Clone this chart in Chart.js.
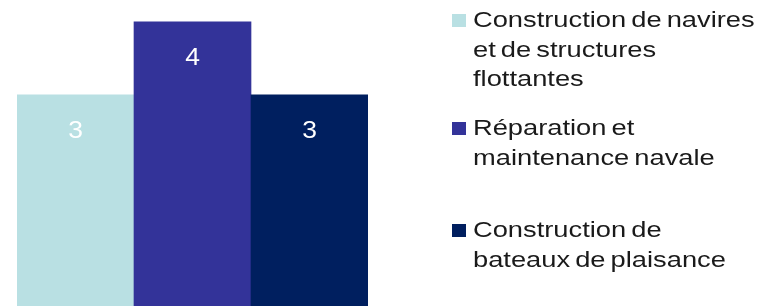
<!DOCTYPE html>
<html>
<head>
<meta charset="utf-8">
<script src="https://cdn.jsdelivr.net/npm/chart.js@4"></script>
<style>
  html, body { margin: 0; padding: 0; background: #fff; overflow: hidden; }
  body { width: 758px; height: 306px; position: relative; }
  #wrap { position: absolute; left: 0; top: 0; width: 758px; height: 314px; }
  #legend { position: absolute; left: 0; top: 0; }
  .item { position: absolute; left: 452px; }
  .box { position: absolute; left: 0; width: 14px; height: 13px; }
  .txt {
    position: absolute; left: 21px; top: 0;
    font-family: "Liberation Sans", Arial, sans-serif; font-size: 22px;
    line-height: 29.5px; color: #1a1a1a; white-space: nowrap;
    word-spacing: -2px;
    transform: scaleX(1.24); transform-origin: left top;
  }
</style>
</head>
<body>
<div id="wrap"><canvas id="barChart" width="758" height="314"></canvas></div>
<div id="legend"></div>
<script>
// Categories (one bar each) and their values
var categoryNames = [
  ['Construction de navires', 'et de structures', 'flottantes'],
  ['Réparation et', 'maintenance navale'],
  ['Construction de', 'bateaux de plaisance']
];
var categoryValues = [3, 4, 3];
var barColors = ['#B9E0E3', '#333399', '#001F5F'];

// legend vertical placement (top of each item, px)
var legendTops = [5, 113, 215];

// value labels inside the top of each bar
var valueLabels = {
  id: 'valueLabels',
  afterDatasetsDraw: function (chart) {
    var ctx = chart.ctx;
    var meta = chart.getDatasetMeta(0);
    ctx.save();
    ctx.fillStyle = '#ffffff';
    ctx.font = '23px "Liberation Sans", Arial, sans-serif';
    ctx.textAlign = 'center';
    ctx.textBaseline = 'middle';
    meta.data.forEach(function (bar, i) {
      ctx.save();
      ctx.translate(bar.x, bar.y + 37);
      ctx.scale(1.15, 1);
      ctx.fillText(String(categoryValues[i]), 0, 0);
      ctx.restore();
    });
    ctx.restore();
  }
};

var ctxBar = document.getElementById('barChart').getContext('2d');
var barChart = new Chart(ctxBar, {
  type: 'bar',
  data: {
    labels: categoryNames.map(function (l) { return l.join(' '); }),
    datasets: [{
      data: categoryValues,
      backgroundColor: barColors,
      borderWidth: 0,
      categoryPercentage: 1,
      barPercentage: 1
    }]
  },
  options: {
    responsive: false,
    animation: false,
    layout: { padding: { left: 17, right: 390, top: 0, bottom: 0 } },
    plugins: { legend: { display: false }, tooltip: { enabled: false } },
    scales: {
      x: { display: false, grid: { display: false } },
      y: { display: false, min: 0, max: 4.3, grid: { display: false } }
    }
  },
  plugins: [valueLabels]
});

// HTML legend built from the same arrays
var legend = document.getElementById('legend');
categoryNames.forEach(function (lines, i) {
  var item = document.createElement('div');
  item.className = 'item';
  item.style.top = legendTops[i] + 'px';
  var box = document.createElement('div');
  box.className = 'box';
  box.style.background = barColors[i];
  box.style.top = '9px';
  var txt = document.createElement('div');
  txt.className = 'txt';
  txt.innerHTML = lines.join('<br>');
  item.appendChild(box);
  item.appendChild(txt);
  legend.appendChild(item);
});
</script>
</body>
</html>
